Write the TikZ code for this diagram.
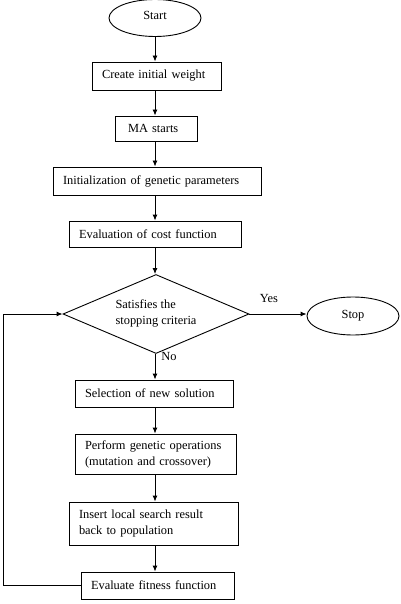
\documentclass[tikz,border=0pt]{standalone}
\usepackage{fontspec}
\setmainfont{Liberation Serif}
\usetikzlibrary{arrows.meta,shapes.geometric}
\begin{document}
\begin{tikzpicture}[x=1pt,y=-1pt,
  every node/.style={font=\fontsize{12.4}{16}\selectfont},
  box/.style={draw,line width=0.9pt,align=left,inner xsep=10pt,inner ysep=0pt},
  oval/.style={draw,ellipse,line width=0.9pt,inner sep=0pt},
  arr/.style={line width=0.9pt,-{Latex[length=6pt,width=5pt]}},
  lbl/.style={inner sep=0pt}]
\useasboundingbox (0,0) rectangle (400,604);
\node[oval,minimum width=92pt,minimum height=37pt] (start) at (155,18) {\raisebox{5pt}{Start}};
\node[box,text width=109pt,minimum height=28pt] (w) at (156.5,76) {Create initial weight};
\node[box,text width=62pt,inner xsep=10pt,minimum height=25pt] (ma) at (156,128.5) {\hspace{3pt}MA starts};
\node[box,text width=188pt,minimum height=28pt] (init) at (157,181) {Initialization of genetic parameters};
\node[box,text width=152pt,minimum height=26pt] (eval) at (155,234) {Evaluation of cost function};
\node[draw,diamond,aspect=2.3,line width=0.9pt,minimum width=186pt,minimum height=79pt,inner sep=0pt,align=left] (dec) at (156,314) {\raisebox{4pt}{Satisfies the}\\\raisebox{4pt}{stopping criteria}};
\node[oval,minimum width=92pt,minimum height=38pt] (stop) at (353,316) {\raisebox{4pt}{Stop}};
\node[box,text width=138pt,minimum height=27pt] (sel) at (154,393.5) {Selection of new solution};
\node[box,text width=141pt,minimum height=40pt] (perf) at (155.5,454) {Perform genetic operations\\(mutation and crossover)};
\node[box,text width=149pt,minimum height=43pt] (ins) at (153.5,523.5) {Insert local search result\\back to population};
\node[box,text width=133pt,minimum height=27pt] (fit) at (157.5,585.5) {Evaluate fitness function};
\node[lbl] (yes) at (269,298) {Yes};
\node[lbl] (no) at (169,356) {No};
\coordinate (loop) at (3,585.5);
\draw[arr] (start.south) -- (start.south |- w.north);
\draw[arr] (w.south -| start) -- (ma.north -| start);
\draw[arr] (ma.south -| start) -- (init.north -| start);
\draw[arr] (init.south -| start) -- (eval.north -| start);
\draw[arr] (eval.south -| start) -- (dec.north -| start);
\draw[arr] (dec.south -| start) -- (sel.north -| start);
\draw[arr] (sel.south -| start) -- (perf.north -| start);
\draw[arr] (perf.south -| start) -- (ins.north -| start);
\draw[arr] (ins.south -| start) -- (fit.north -| start);
\draw[arr] (dec.east) -- (dec.east -| stop.west);
\draw[arr] (fit.west) -- (loop) |- (dec.west);
\end{tikzpicture}
\end{document}
